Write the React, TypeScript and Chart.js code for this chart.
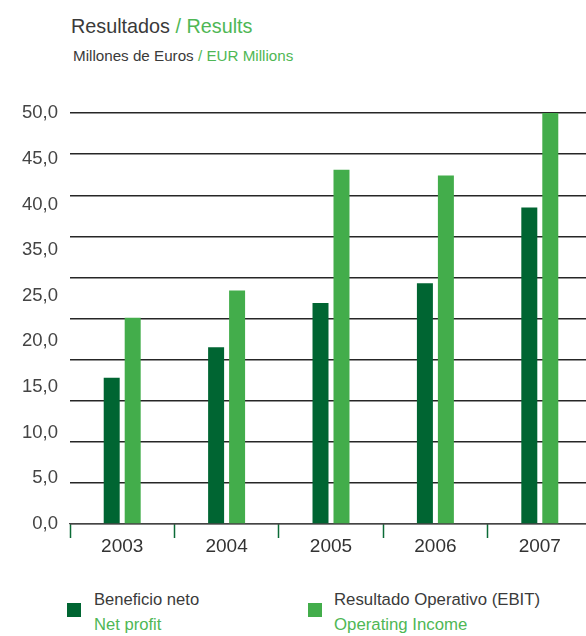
import React, { useEffect, useRef } from "react";
import { Chart, registerables } from "chart.js";

Chart.register(...registerables);

const years = ["2003", "2004", "2005", "2006", "2007"];
const netProfit = [17.8, 21.5, 26.9, 29.3, 38.5];
const operatingIncome = [25.1, 28.4, 43.1, 42.4, 50.0];
const yTickLabels = ["0,0", "5,0", "10,0", "15,0", "20,0", "25,0", "35,0", "40,0", "45,0", "50,0"];

const DARK = "#006532";
const LIGHT = "#43ad4b";
const GREEN_TEXT = "#4fb755";
const GREY_TEXT = "#3a3a3a";
const FONT = '"Liberation Sans", Arial, sans-serif';

export default function App() {
  const canvasRef = useRef<HTMLCanvasElement | null>(null);

  useEffect(() => {
    const canvas = canvasRef.current;
    if (!canvas) return;
    const chart = new Chart(canvas, {
      type: "bar",
      data: {
        labels: years,
        datasets: [
          {
            label: "Beneficio neto / Net profit",
            data: netProfit,
            backgroundColor: DARK,
            yAxisID: "y",
            barPercentage: 0.762,
            categoryPercentage: 0.402,
          },
          {
            label: "Resultado Operativo (EBIT) / Operating Income",
            data: operatingIncome,
            backgroundColor: LIGHT,
            yAxisID: "y",
            barPercentage: 0.762,
            categoryPercentage: 0.402,
          },
        ],
      },
      options: {
        responsive: false,
        animation: false,
        layout: { padding: { top: 22, left: 0, right: 0, bottom: 0 } },
        plugins: {
          legend: { display: false },
          tooltip: { enabled: false },
        },
        scales: {
          x: {
            type: "category",
            offset: true,
            grid: {
              offset: true,
              drawOnChartArea: false,
              drawTicks: true,
              tickLength: 14,
              tickColor: "#0b6b36",
              tickWidth: 1.5,
            },
            border: { display: true, color: "#444444", width: 1.3 },
            ticks: {
              color: "#333333",
              font: { family: FONT, size: 19 },
              padding: -3,
            },
            afterFit: (s: any) => {
              s.height = 40;
            },
          },
          yl: {
            type: "linear",
            position: "left",
            min: 0,
            max: 9,
            grid: { display: false, drawTicks: false },
            border: { display: false },
            ticks: {
              stepSize: 1,
              padding: 12,
              color: "#444444",
              font: { family: FONT, size: 18.5 },
              callback: (v: any) => yTickLabels[Number(v)] ?? "",
            },
            afterFit: (s: any) => {
              s.width = 70;
            },
          },
          y: {
            type: "linear",
            position: "left",
            min: 0,
            max: 50,
            z: 1,
            grid: {
              color: "rgba(0,0,0,0.85)",
              lineWidth: 1.5,
              drawTicks: false,
            },
            border: { display: false },
            ticks: { stepSize: 5, display: false },
            afterFit: (s: any) => {
              s.width = 0;
            },
          },
        },
      },
    });
    return () => chart.destroy();
  }, []);

  const abs = (o: React.CSSProperties): React.CSSProperties => ({
    position: "absolute",
    whiteSpace: "nowrap",
    fontFamily: FONT,
    lineHeight: 1,
    ...o,
  });

  return (
    <div
      style={{
        position: "fixed",
        left: 0,
        top: 0,
        width: 586,
        height: 636,
        overflow: "hidden",
        background: "#ffffff",
      }}
    >
      <div style={abs({ left: 71, top: 17, fontSize: 19.8, color: GREY_TEXT })}>
        Resultados <span style={{ color: GREEN_TEXT }}>/ Results</span>
      </div>
      <div style={abs({ left: 73, top: 48, fontSize: 15.2, color: GREY_TEXT })}>
        Millones de Euros <span style={{ color: GREEN_TEXT }}>/ EUR Millions</span>
      </div>
      <canvas
        ref={canvasRef}
        width={592}
        height={474}
        style={{ position: "absolute", left: 0, top: 90, width: 592, height: 474, display: "block" }}
      />
      <div style={abs({ left: 67, top: 603, width: 14, height: 14, background: DARK })} />
      <div style={abs({ left: 94, top: 592, fontSize: 16.6, color: GREY_TEXT })}>Beneficio neto</div>
      <div style={abs({ left: 94, top: 617, fontSize: 16.6, color: GREEN_TEXT })}>Net profit</div>
      <div style={abs({ left: 308, top: 603, width: 14, height: 14, background: LIGHT })} />
      <div style={abs({ left: 334, top: 592, fontSize: 16.8, color: GREY_TEXT })}>
        Resultado Operativo (EBIT)
      </div>
      <div style={abs({ left: 334, top: 617, fontSize: 16.8, color: GREEN_TEXT })}>Operating Income</div>
    </div>
  );
}
